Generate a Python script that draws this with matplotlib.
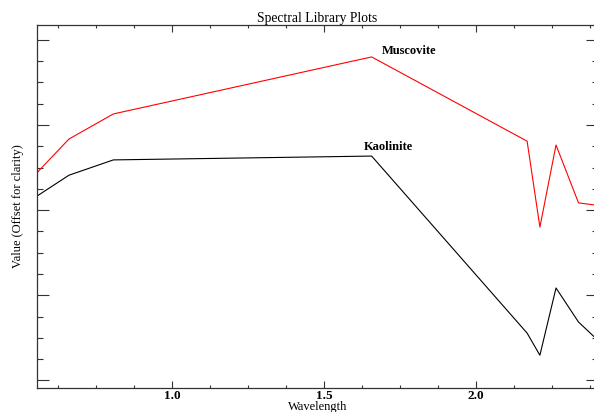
import numpy as np
import matplotlib
matplotlib.use("Agg")
import matplotlib.pyplot as plt
from matplotlib.ticker import MultipleLocator

# ASTER band centres (um)
wavelength = [0.556, 0.661, 0.807, 1.656, 2.167, 2.209, 2.262, 2.336, 2.400]
# offset reflectance
muscovite = [0.488, 0.567, 0.626, 0.760, 0.562, 0.360, 0.553, 0.417, 0.411]
kaolinite = [0.433, 0.482, 0.518, 0.527, 0.111, 0.059, 0.217, 0.137, 0.094]

W, H = 594, 412
plt.rcParams["font.family"] = ["Liberation Serif", "DejaVu Serif"]

fig = plt.figure(figsize=(W / 100, H / 100), dpi=100)
# right spine sits just past the image edge, like the original
ax = fig.add_axes([37 / W, (H - 388) / H, 561 / W, 363 / H])

ax.plot(wavelength, muscovite, color="#ff0000", lw=0.8)
ax.plot(wavelength, kaolinite, color="black", lw=0.8)

ax.annotate("Muscovite", (wavelength[3], muscovite[3]), xytext=(7, 4),
            textcoords="offset points", fontsize=9, fontweight="bold",
            va="center", ha="left")
ax.annotate("Kaolinite", (wavelength[3], kaolinite[3]), xytext=(-6, 6.5),
            textcoords="offset points", fontsize=9, fontweight="bold",
            va="center", ha="left")

ax.set_xlim(0.556, 2.400)
ax.set_ylim(-0.018, 0.835)
ax.xaxis.set_major_locator(MultipleLocator(0.5))
ax.xaxis.set_minor_locator(MultipleLocator(0.125))
ax.yaxis.set_major_locator(MultipleLocator(0.2))
ax.yaxis.set_minor_locator(MultipleLocator(0.05))
ax.set_yticklabels([])

ax.tick_params(axis="both", which="both", direction="in", top=True, right=True,
               width=0.8, color="#333333")
ax.tick_params(axis="x", which="major", length=5, pad=1.5, labelsize=9.5)
ax.tick_params(axis="x", which="minor", length=2.5)
ax.tick_params(axis="y", which="major", length=8.5)
ax.tick_params(axis="y", which="minor", length=4.3)
for lab in ax.get_xticklabels():
    lab.set_fontweight("bold")

for s in ax.spines.values():
    s.set_linewidth(0.9)
    s.set_color("#333333")

ax.set_title("Spectral Library Plots", fontsize=9.8, pad=2.5)
ax.set_xlabel("Wavelength", fontsize=9, labelpad=-0.5)
ax.set_ylabel("Value (Offset for clarity)", fontsize=9, labelpad=6)

fig.savefig("out.png", dpi=100)
